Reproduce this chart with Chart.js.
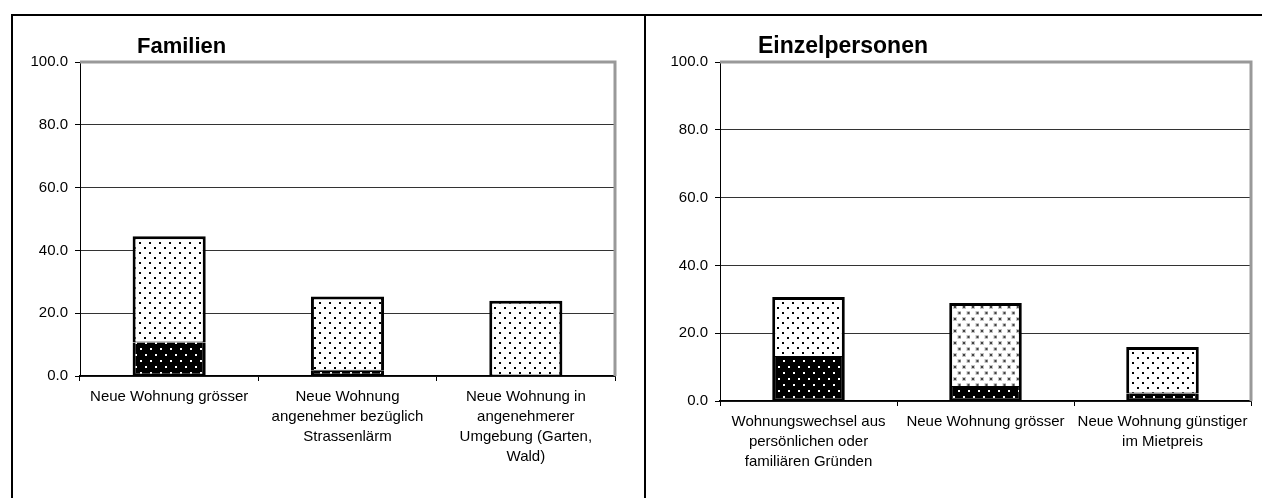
<!DOCTYPE html>
<html>
<head>
<meta charset="utf-8">
<script src="https://cdn.jsdelivr.net/npm/chart.js@4"></script>
<style>
body { margin: 0; background: #fff; width: 1262px; height: 498px; overflow: hidden; position: relative; }
#frame { position: absolute; left: 11px; top: 14px; width: 1260px; height: 490px; border-top: 2px solid #000; border-left: 2px solid #000; }
#divider { position: absolute; left: 644px; top: 14px; width: 2px; height: 490px; background: #000; }
canvas { position: absolute; }
#famChart { left: 13px; top: 16px; }
#einChart { left: 646px; top: 16px; }
</style>
</head>
<body>
<div id="frame"></div>
<div id="divider"></div>
<canvas id="famChart" width="631" height="482"></canvas>
<canvas id="einChart" width="616" height="482"></canvas>

<script>
// Data
const yTickValues = [0, 20, 40, 60, 80, 100];

const famCategories = [
    ['Neue Wohnung grösser'],
    ['Neue Wohnung', 'angenehmer bezüglich', 'Strassenlärm'],
    ['Neue Wohnung in', 'angenehmerer', 'Umgebung (Garten,', 'Wald)']
];
const famLower = [10.7, 1.7, 0];
const famUpper = [33.8, 23.6, 24.0];

const einCategories = [
    ['Wohnungswechsel aus', 'persönlichen oder', 'familiären Gründen'],
    ['Neue Wohnung grösser'],
    ['Neue Wohnung günstiger', 'im Mietpreis']
];
const einLower = [13.0, 4.1, 2.2];
const einUpper = [17.7, 24.8, 13.7];

const FONT = 'Arial, "Liberation Sans", sans-serif';

// Fill patterns
function makePattern(bg, dot, dots, size, w, h) {
    const c = document.createElement('canvas');
    c.width = w; c.height = h;
    const g = c.getContext('2d');
    g.fillStyle = bg;
    g.fillRect(0, 0, w, h);
    g.fillStyle = dot;
    dots.forEach(d => g.fillRect(d[0], d[1], size, size));
    return g.createPattern(c, 'repeat');
}

const darkPattern = makePattern('#000', '#fff', [[2, 2], [7, 8]], 2, 10, 12);
const dotPattern = makePattern('#fff', '#000', [[1, 1], [6, 6]], 2, 10, 10);

function makeGrayDots() {
    const c = document.createElement('canvas');
    c.width = 9; c.height = 12;
    const g = c.getContext('2d');
    g.fillStyle = '#fff';
    g.fillRect(0, 0, 9, 12);
    [[2, 2], [6.5, 8]].forEach(d => {
        g.fillStyle = '#c4c4c4';
        g.fillRect(d[0] - 1, d[1] - 1, 4, 4);
        g.fillStyle = '#444';
        g.fillRect(d[0], d[1], 2, 2);
    });
    return g.createPattern(c, 'repeat');
}
const grayDotPattern = makeGrayDots();

// Gray frame on top/right of plot area + panel title
const plotFrame = {
    id: 'plotFrame',
    afterDraw(chart, args, opts) {
        const { ctx, chartArea: a } = chart;
        ctx.save();
        ctx.strokeStyle = '#999';
        ctx.lineWidth = 3;
        ctx.beginPath();
        ctx.moveTo(a.left, a.top);
        ctx.lineTo(a.right, a.top);
        ctx.lineTo(a.right, a.bottom);
        ctx.stroke();
        ctx.fillStyle = '#000';
        ctx.font = 'bold ' + opts.size + 'px ' + FONT;
        ctx.textBaseline = 'middle';
        ctx.fillText(opts.text, opts.x, opts.y);
        ctx.restore();
    }
};

function makeChart(id, categories, lower, upper, upperFill, axisW, axisH, padRight, title) {
    return new Chart(document.getElementById(id), {
        type: 'bar',
        data: {
            labels: categories,
            datasets: [{
                data: lower,
                backgroundColor: darkPattern,
                borderColor: '#000',
                borderWidth: { top: 0, left: 3, right: 3, bottom: 2 },
                borderSkipped: false,
                barPercentage: 0.41,
                categoryPercentage: 1
            }, {
                data: upper,
                backgroundColor: upperFill,
                borderColor: '#000',
                borderWidth: { top: 3, left: 3, right: 3, bottom: 1 },
                borderSkipped: false,
                barPercentage: 0.41,
                categoryPercentage: 1
            }]
        },
        options: {
            responsive: false,
            animation: false,
            layout: { padding: { top: 46, right: padRight, bottom: 0, left: 0 } },
            plugins: {
                legend: { display: false },
                tooltip: { enabled: false },
                plotFrame: title
            },
            scales: {
                x: {
                    stacked: true,
                    grid: { display: true, drawOnChartArea: false, drawTicks: true, tickLength: 5, color: '#000', offset: true },
                    border: { display: true, color: '#000', width: 1.5 },
                    ticks: {
                        autoSkip: false, maxRotation: 0, minRotation: 0, padding: 6,
                        color: '#000',
                        font: { family: FONT, size: 15, lineHeight: 1.333 }
                    },
                    afterFit(scale) { scale.height = axisH; }
                },
                y: {
                    stacked: true,
                    min: 0,
                    max: 100,
                    afterBuildTicks(scale) { scale.ticks = yTickValues.map(v => ({ value: v })); },
                    grid: {
                        color: ctx => ctx.tick && ctx.tick.value === 100 ? 'rgba(0,0,0,0)' : '#333',
                        lineWidth: 1,
                        drawTicks: true,
                        tickLength: 5,
                        tickColor: '#000'
                    },
                    border: { display: true, color: '#000', width: 1 },
                    ticks: {
                        padding: 7,
                        color: '#000',
                        font: { family: FONT, size: 15 },
                        callback: v => v.toFixed(1)
                    },
                    afterFit(scale) { scale.width = axisW; }
                }
            }
        },
        plugins: [plotFrame]
    });
}

makeChart('famChart', famCategories, famLower, famUpper, dotPattern, 67, 122, 29,
    { text: 'Familien', x: 124, y: 31, size: 22 });
makeChart('einChart', einCategories, einLower, einUpper, [dotPattern, grayDotPattern, dotPattern], 74, 97, 11,
    { text: 'Einzelpersonen', x: 112, y: 31, size: 23 });
</script>
</body>
</html>
